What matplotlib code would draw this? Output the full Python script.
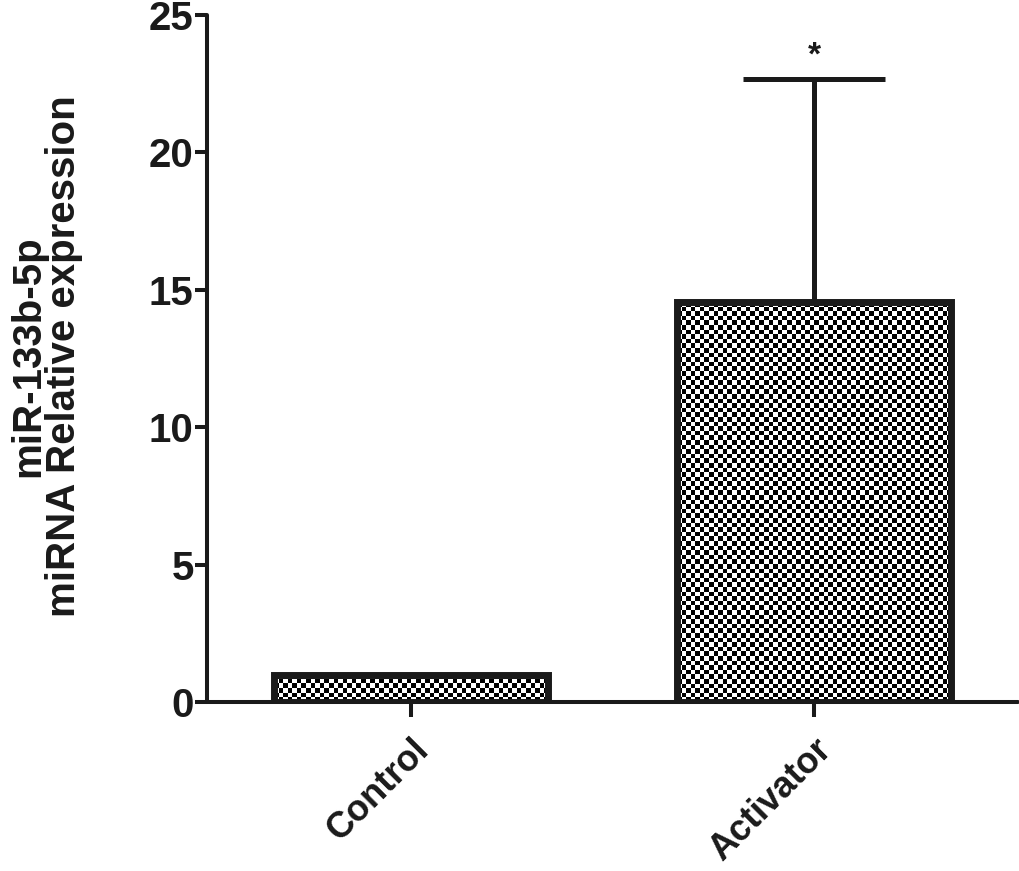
import matplotlib
matplotlib.use('Agg')
import matplotlib.pyplot as plt
import numpy as np

# data
groups = ['Control', 'Activator']
means = [1.0, 14.55]
sems = [0.0, 8.1]
y_ticks = [0, 5, 10, 15, 20, 25]
star_label = '*'
ylab_1 = 'miR-133b-5p'
ylab_2 = 'miRNA Relative expression'

plt.rcParams['font.family'] = ['Liberation Sans Narrow', 'Liberation Sans', 'DejaVu Sans']
plt.rcParams['font.weight'] = 'bold'

fig = plt.figure(figsize=(10.2, 8.71), dpi=100)
ax = fig.add_axes([0.203, 0.194, 0.795, 0.789])

x = np.arange(len(groups))
width = 0.68
bars = ax.bar(x, means, width, color='none', edgecolor='#1a1a1a', linewidth=5, zorder=3)
ax.errorbar(x[1:], means[1:], yerr=[[0], sems[1:]], fmt='none', ecolor='#1a1a1a',
            elinewidth=3.6, capsize=51, capthick=3.6, zorder=2)

ax.set_xlim(-0.506, 1.506)
ax.set_ylim(0, 25)

# checkerboard fill clipped to each bar
fig.canvas.draw()
sq = 4.6  # pixel size of a square
for b in bars:
    x0, y0 = b.get_x(), b.get_y()
    w, h = b.get_width(), b.get_height()
    p0 = ax.transData.transform((x0, y0))
    p1 = ax.transData.transform((x0 + w, y0 + h))
    nx = max(1, int(round((p1[0] - p0[0]) / sq)))
    ny = max(1, int(round((p1[1] - p0[1]) / sq)))
    board = (np.indices((ny, nx)).sum(axis=0) % 2).astype(float)
    im = ax.imshow(board, cmap='gray', extent=(x0, x0 + w, y0, y0 + h),
                   interpolation='nearest', aspect='auto', zorder=2.5, vmin=0, vmax=1)
    im.set_clip_path(b)
ax.set_xlim(-0.506, 1.506)
ax.set_ylim(0, 25)
ax.set_aspect('auto')

ax.text(x[1], means[1] + sems[1] + 0.3, star_label, ha='center', va='bottom',
        fontsize=24, color='#1a1a1a')

for s in ['top', 'right']:
    ax.spines[s].set_visible(False)
for s in ['left', 'bottom']:
    ax.spines[s].set_linewidth(2.9)
    ax.spines[s].set_color('#1a1a1a')
    ax.spines[s].set_capstyle('round')

ax.set_yticks(y_ticks)
ax.set_yticklabels([str(t) for t in y_ticks], fontsize=29, fontweight='bold')
ax.tick_params(axis='y', length=8.6, width=2.9, pad=1, colors='#1a1a1a')
ax.set_xticks(x)
ax.set_xticklabels(groups, rotation=45, ha='right', va='top', rotation_mode='anchor',
                   fontsize=26, fontweight='bold')
ax.tick_params(axis='x', length=11, width=2.9, pad=11, colors='#1a1a1a')

fig.text(0.028, 0.591, ylab_1, rotation=90, ha='center', va='center',
         fontsize=29, fontweight='bold', color='#1a1a1a')
fig.text(0.063, 0.591, ylab_2, rotation=90, ha='center', va='center',
         fontsize=29, fontweight='bold', color='#1a1a1a')

plt.savefig('out.png', dpi=100)
